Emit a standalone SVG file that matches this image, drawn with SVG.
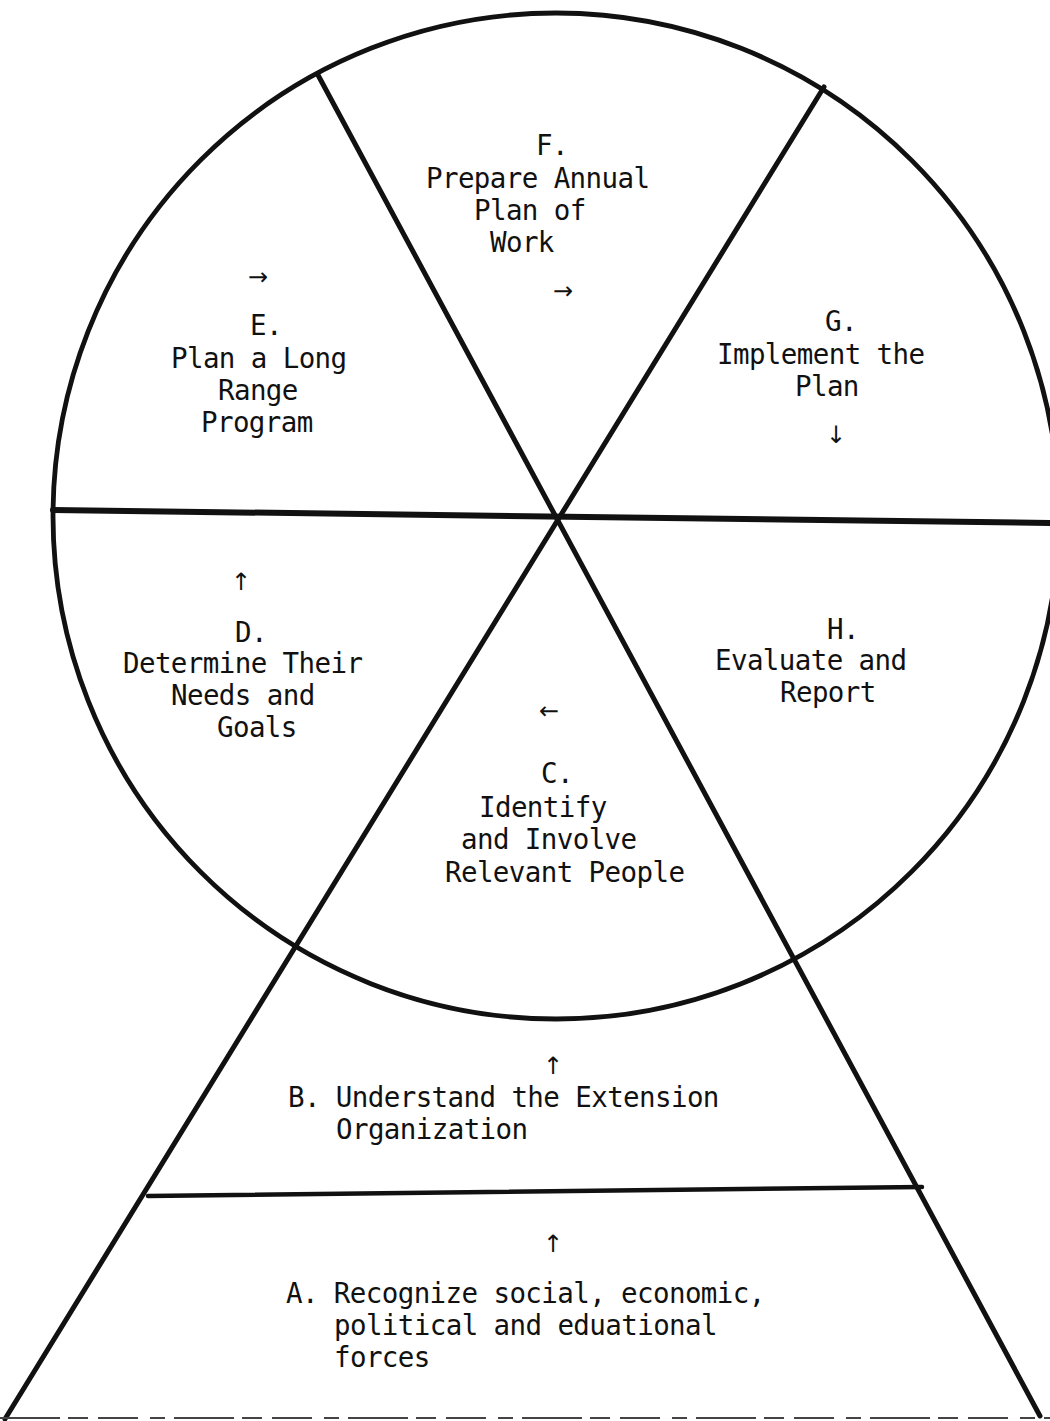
<svg xmlns="http://www.w3.org/2000/svg" width="1050" height="1421" viewBox="0 0 1050 1421">
<style>
  .t { font-family: "DejaVu Sans Mono", "Liberation Mono", monospace; font-size: 27.5px; letter-spacing: -0.6px; fill: #111; }
  .a { font-family: "DejaVu Sans", "DejaVu Sans Mono", sans-serif; font-size: 24px; fill: #111; text-anchor: middle; }
  .ln { stroke: #111; fill: none; stroke-linecap: round; }
</style>
<rect width="1050" height="1421" fill="#fff"/>
<g id="connectors">
  <circle class="ln" cx="556" cy="516" r="503" stroke-width="4.8"/>
  <line class="ln" x1="318" y1="75" x2="1040" y2="1416" stroke-width="5"/>
  <line class="ln" x1="824" y1="87" x2="5" y2="1419" stroke-width="5"/>
  <line class="ln" x1="53" y1="510" x2="1050" y2="523" stroke-width="6"/>
  <line class="ln" x1="148" y1="1196" x2="922" y2="1187" stroke-width="4.5"/>
  <line x1="0" y1="1418" x2="1050" y2="1418" stroke="#444" stroke-width="2" stroke-dasharray="60 8 20 10 40 12 15 9"/>
</g>
<g id="node-F">
  <text class="t" x="536" y="155">F.</text>
  <text class="t" x="426" y="188">Prepare Annual</text>
  <text class="t" x="474" y="220">Plan of</text>
  <text class="t" x="490" y="252">Work</text>
  <text class="a" x="563" y="299">→</text>
</g>
<g id="node-E">
  <text class="t" x="250" y="335">E.</text>
  <text class="t" x="171" y="368">Plan a Long</text>
  <text class="t" x="218" y="400">Range</text>
  <text class="t" x="201" y="432">Program</text>
  <text class="a" x="258" y="285">→</text>
</g>
<g id="node-G">
  <text class="t" x="825" y="331">G.</text>
  <text class="t" x="717" y="364">Implement the</text>
  <text class="t" x="795" y="396">Plan</text>
  <text class="a" x="836" y="443">↓</text>
</g>
<g id="node-D">
  <text class="a" x="241" y="590">↑</text>
  <text class="t" x="235" y="642">D.</text>
  <text class="t" x="123" y="673">Determine Their</text>
  <text class="t" x="171" y="705">Needs and</text>
  <text class="t" x="217" y="737">Goals</text>
</g>
<g id="node-H">
  <text class="t" x="827" y="639">H.</text>
  <text class="t" x="715" y="670">Evaluate and</text>
  <text class="t" x="780" y="702">Report</text>
</g>
<g id="node-C">
  <text class="a" x="549" y="719">←</text>
  <text class="t" x="541" y="783">C.</text>
  <text class="t" x="479" y="817">Identify</text>
  <text class="t" x="461" y="849">and Involve</text>
  <text class="t" x="445" y="882">Relevant People</text>
</g>
<g id="node-B">
  <text class="a" x="553" y="1074">↑</text>
  <text class="t" x="288" y="1107">B. Understand the Extension</text>
  <text class="t" x="336" y="1139">Organization</text>
</g>
<g id="node-A">
  <text class="a" x="553" y="1252">↑</text>
  <text class="t" x="286" y="1303">A. Recognize social, economic,</text>
  <text class="t" x="334" y="1335">political and eduational</text>
  <text class="t" x="334" y="1367">forces</text>
</g>
</svg>
